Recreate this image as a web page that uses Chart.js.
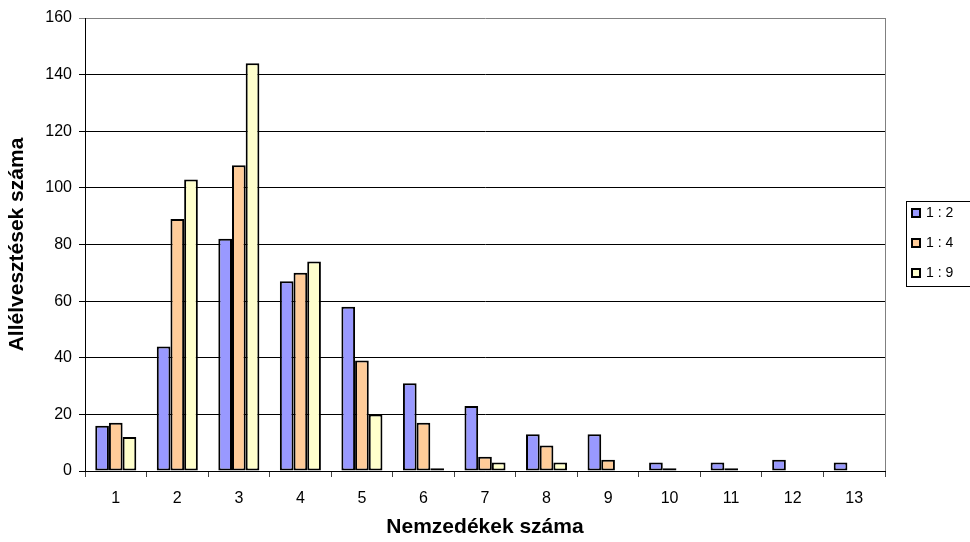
<!DOCTYPE html>
<html>
<head>
<meta charset="utf-8">
<script src="https://cdn.jsdelivr.net/npm/chart.js@4.4.0/dist/chart.umd.min.js"></script>
<style>
  html, body { margin: 0; padding: 0; background: #fff; }
  #wrap { width: 970px; height: 542px; }
</style>
</head>
<body>
<div id="wrap"><canvas id="myChart" width="970" height="542"></canvas></div>
<script>
// nemzedekek (x categories)
var categories = ['1', '2', '3', '4', '5', '6', '7', '8', '9', '10', '11', '12', '13'];

// allelvesztesek szama per arany
var ratio12 = [16, 44, 82, 67, 58, 31, 23, 13, 13, 3, 3, 4, 3];
var ratio14 = [17, 89, 108, 70, 39, 17, 5, 9, 4, 1, 1, 0, 0];
var ratio19 = [12, 103, 144, 74, 20, 1, 3, 3, 0, 0, 0, 0, 0];

var seriesNames = ['1 : 2', '1 : 4', '1 : 9'];
var seriesColors = ['#9999FF', '#FFCC99', '#FFFFCC'];

var yMin = 0, yMax = 160, yStep = 20;

var FONT = "'Liberation Sans', Arial, sans-serif";

// gray frame on the right side of the plot area
var plotFrame = {
  id: 'plotFrame',
  afterDraw: function(chart) {
    var ctx = chart.ctx, a = chart.chartArea;
    ctx.save();
    ctx.strokeStyle = '#808080';
    ctx.lineWidth = 1;
    ctx.beginPath();
    ctx.moveTo(Math.round(a.right) + 0.5, a.top);
    ctx.lineTo(Math.round(a.right) + 0.5, a.bottom);
    ctx.stroke();
    ctx.restore();
  }
};

// excel style legend box on the right
var boxLegend = {
  id: 'boxLegend',
  afterDraw: function(chart) {
    var ctx = chart.ctx;
    var x = 906, y = 201, w = 80, h = 85;
    ctx.save();
    ctx.strokeStyle = '#000';
    ctx.lineWidth = 1;
    ctx.strokeRect(x + 0.5, y + 0.5, w, h);
    ctx.font = '14px ' + FONT;
    ctx.textBaseline = 'middle';
    chart.data.datasets.forEach(function(ds, i) {
      var cy = y + 12 + i * 30;
      ctx.fillStyle = ds.backgroundColor;
      ctx.fillRect(x + 6, cy - 4, 8, 8);
      ctx.lineWidth = 2;
      ctx.strokeRect(x + 6, cy - 4, 8, 8);
      ctx.fillStyle = '#000';
      ctx.fillText(ds.label, x + 20, cy);
    });
    ctx.restore();
  }
};

var datasets = [ratio12, ratio14, ratio19].map(function(vals, i) {
  return {
    label: seriesNames[i],
    data: vals,
    backgroundColor: seriesColors[i],
    borderColor: '#000',
    borderWidth: 2,
    borderSkipped: false,
    categoryPercentage: 0.667,
    barPercentage: 1.0
  };
});

var ctx = document.getElementById('myChart').getContext('2d');
var chart = new Chart(ctx, {
  type: 'bar',
  data: {
    labels: categories,
    datasets: datasets
  },
  options: {
    responsive: false,
    animation: false,
    layout: { padding: { top: 18, right: 85, left: 0, bottom: 0 } },
    plugins: {
      legend: { display: false },
      tooltip: { enabled: false }
    },
    scales: {
      x: {
        afterFit: function(scale) { scale.height = 71; },
        grid: {
          offset: true,
          drawOnChartArea: false,
          tickLength: 6,
          color: '#444'
        },
        border: { color: '#000', width: 1 },
        ticks: {
          color: '#000',
          font: { family: FONT, size: 16 },
          padding: 12
        },
        title: {
          display: true,
          text: 'Nemzedékek száma',
          color: '#000',
          font: { family: FONT, size: 21, weight: 'bold' },
          padding: { top: 0, bottom: 2 }
        }
      },
      y: {
        min: yMin,
        max: yMax,
        afterFit: function(scale) { scale.width = 85; },
        grid: {
          color: function(c) { return c.tick && c.tick.value === yMax ? '#808080' : '#000'; },
          tickLength: 6
        },
        border: { color: '#000', width: 1 },
        ticks: {
          stepSize: yStep,
          color: '#000',
          font: { family: FONT, size: 16 },
          padding: 7
        },
        title: {
          display: true,
          text: 'Allélvesztések száma',
          color: '#000',
          font: { family: FONT, size: 21, weight: 'bold' },
          padding: { top: 5, bottom: 0 }
        }
      }
    }
  },
  plugins: [plotFrame, boxLegend]
});
</script>
</body>
</html>
